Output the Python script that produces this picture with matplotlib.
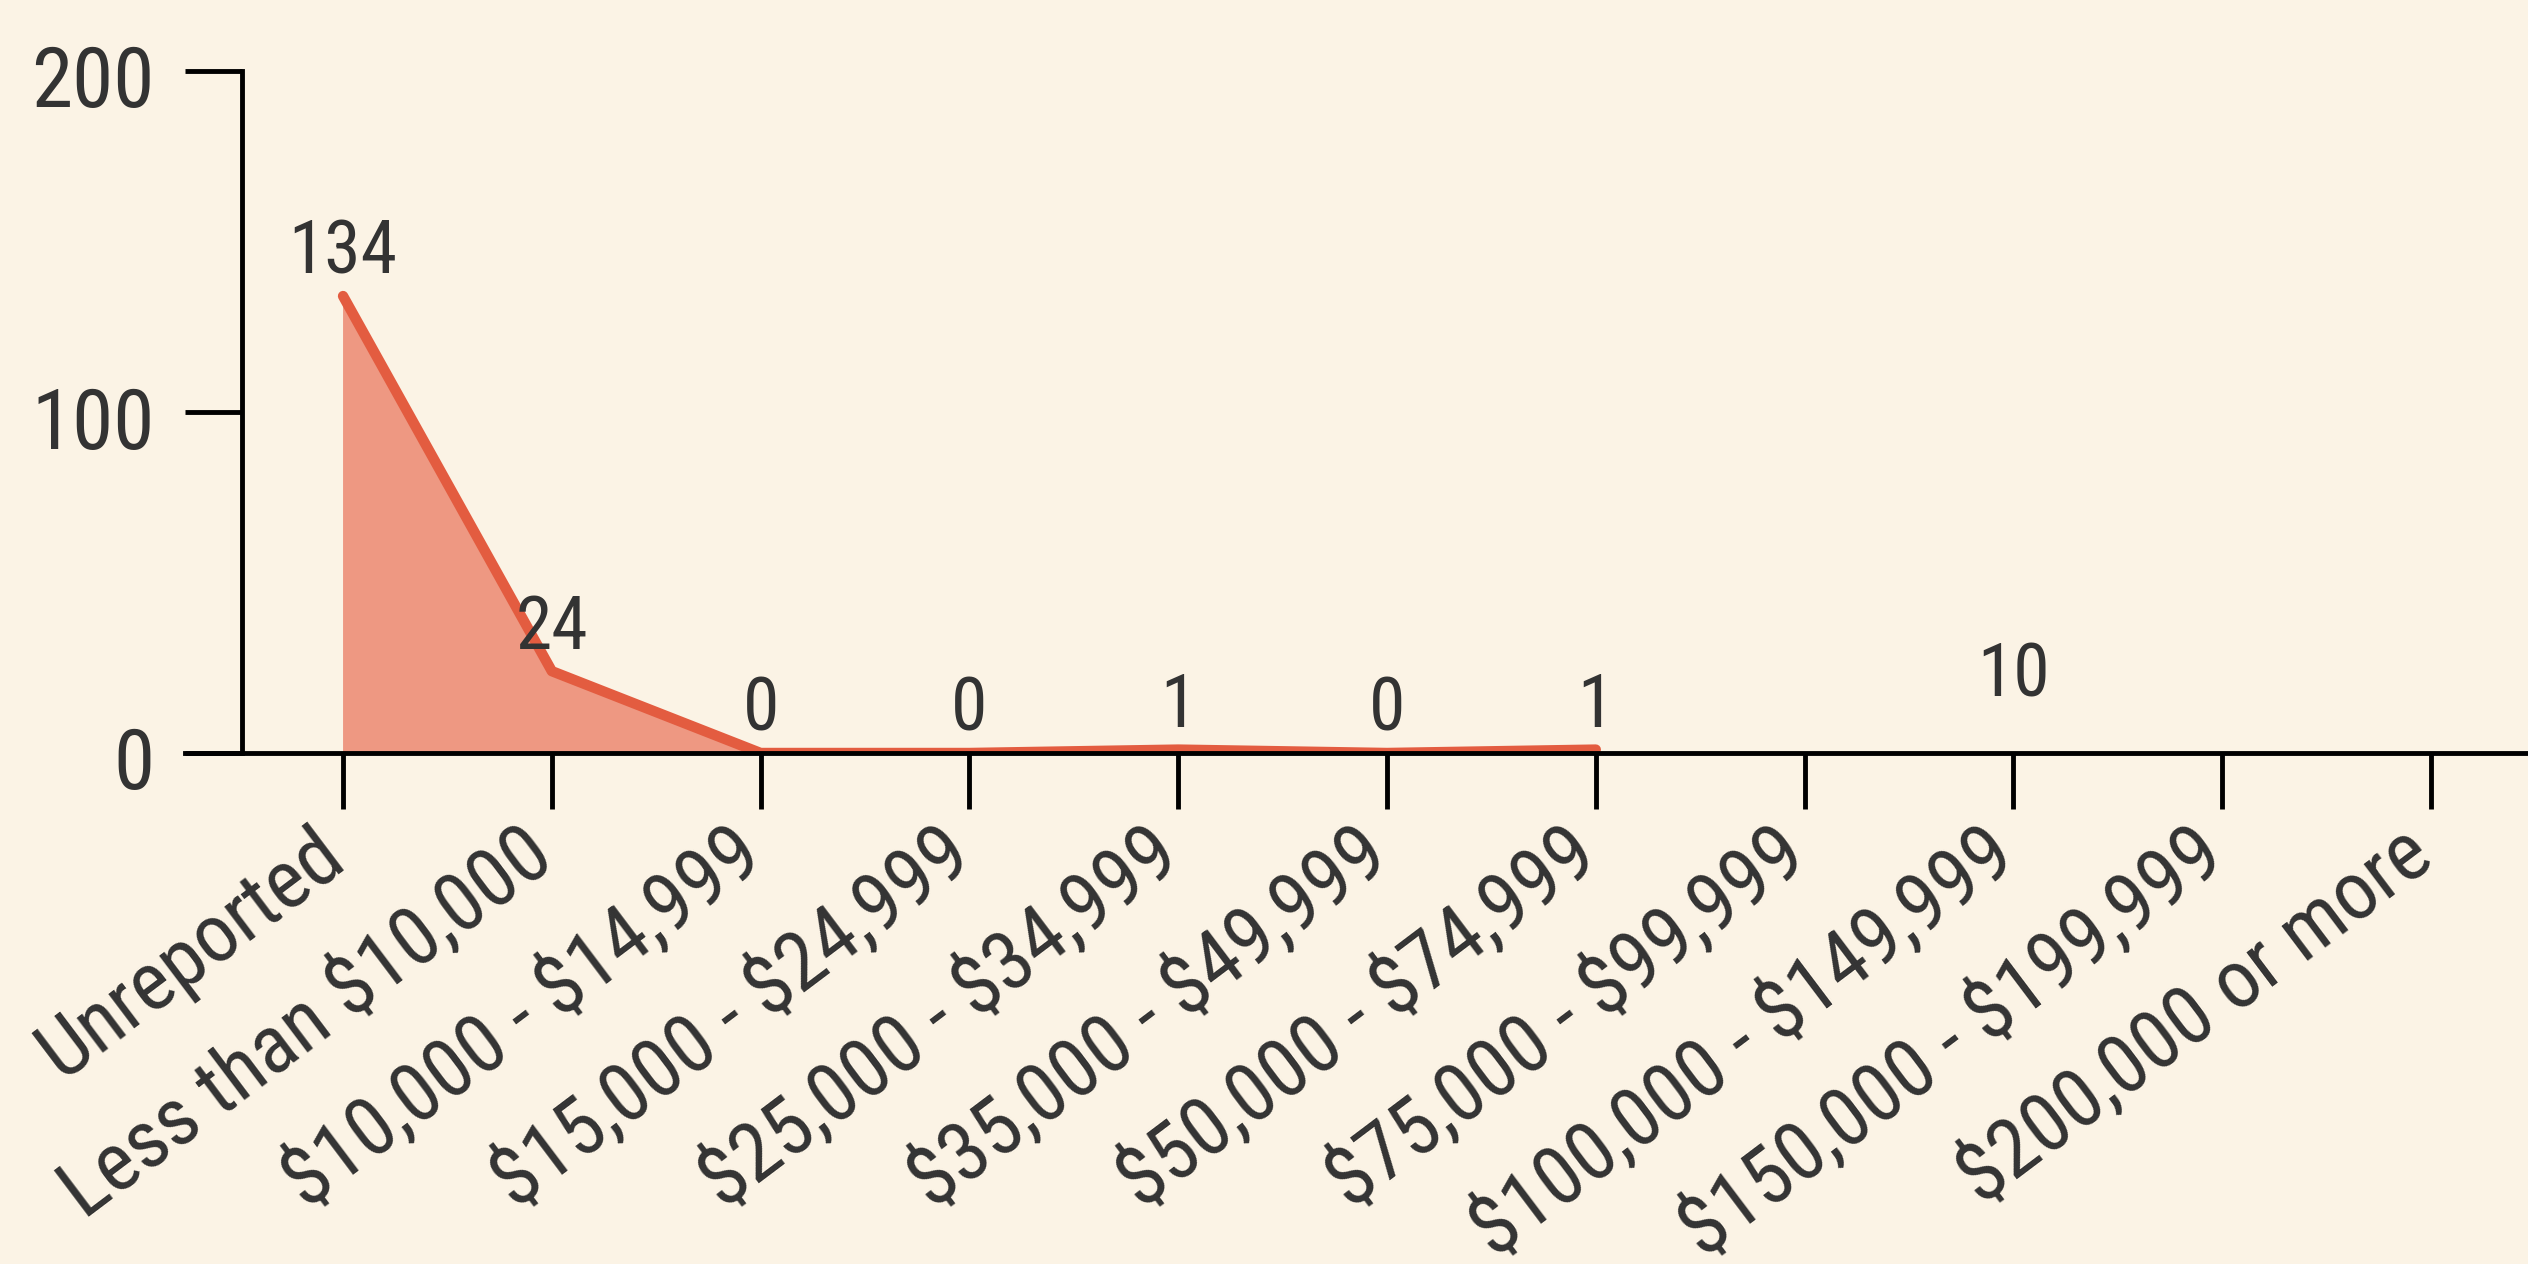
import numpy as np
import matplotlib.pyplot as plt
from matplotlib.transforms import ScaledTranslation

plt.rcParams['font.family'] = ['Roboto Condensed', 'Liberation Sans Narrow', 'Roboto', 'DejaVu Sans']
plt.rcParams['text.parse_math'] = False

categories = [
    "Unreported", "Less than $10,000", "$10,000 - $14,999", "$15,000 - $24,999",
    "$25,000 - $34,999", "$35,000 - $49,999", "$50,000 - $74,999", "$75,000 - $99,999",
    "$100,000 - $149,999", "$150,000 - $199,999", "$200,000 or more",
]
counts = [134, 24, 0, 0, 1, 0, 1, np.nan, 10, np.nan, np.nan]
y_ticks = [0, 100, 200]

bg = "#FBF3E5"
line_color = "#E35C40"
fill_color = "#EE9882"
text_color = "#333333"

fig = plt.figure(figsize=(25.28, 12.64), dpi=100, facecolor=bg)
ax = fig.add_axes([185 / 2528, 1 - 753 / 1264, 1 - 185 / 2528, (753 - 71) / 1264])
ax.set_facecolor(bg)

x = np.arange(len(categories))
y = np.array(counts, dtype=float)

ax.fill_between(x, 0, y, where=~np.isnan(y), color=fill_color, linewidth=0, interpolate=False)
ax.plot(x, y, color=line_color, linewidth=7.5, solid_capstyle='round', solid_joinstyle='round')

for xi, v in zip(x, y):
    if not np.isnan(v):
        ax.annotate(f"{int(v)}", (xi, v), xytext=(0, 16), textcoords='offset points',
                    ha='center', va='baseline', fontsize=53, color=text_color)

ax.set_xlim(-0.757, 10.465)
ax.set_ylim(0, 200)

ax.spines['top'].set_visible(False)
ax.spines['right'].set_visible(False)
ax.spines['left'].set_position(('axes', (242 - 185) / (2528 - 185)))
ax.spines['left'].set_bounds(0, 200)
for s in ('left', 'bottom'):
    ax.spines[s].set_linewidth(3.5)
    ax.spines[s].set_color('black')

ax.set_yticks(y_ticks)
ax.set_xticks(x)
ax.set_xticklabels(categories, rotation=37, ha='right', va='center', rotation_mode='anchor')
ax.tick_params(axis='y', length=41, width=3.5, pad=22, labelsize=60, labelcolor=text_color)
ax.tick_params(axis='x', length=40, width=3.5, pad=22, labelsize=59, labelcolor=text_color)

# small nudges so the labels sit like the original
x_shift = ScaledTranslation(-8 / 100, -6 / 100, fig.dpi_scale_trans)
for lbl in ax.get_xticklabels():
    lbl.set_transform(lbl.get_transform() + x_shift)
y_shift = ScaledTranslation(0, -5 / 100, fig.dpi_scale_trans)
for lbl in ax.get_yticklabels():
    lbl.set_transform(lbl.get_transform() + y_shift)

fig.savefig("out.png", dpi=100, facecolor=bg)
